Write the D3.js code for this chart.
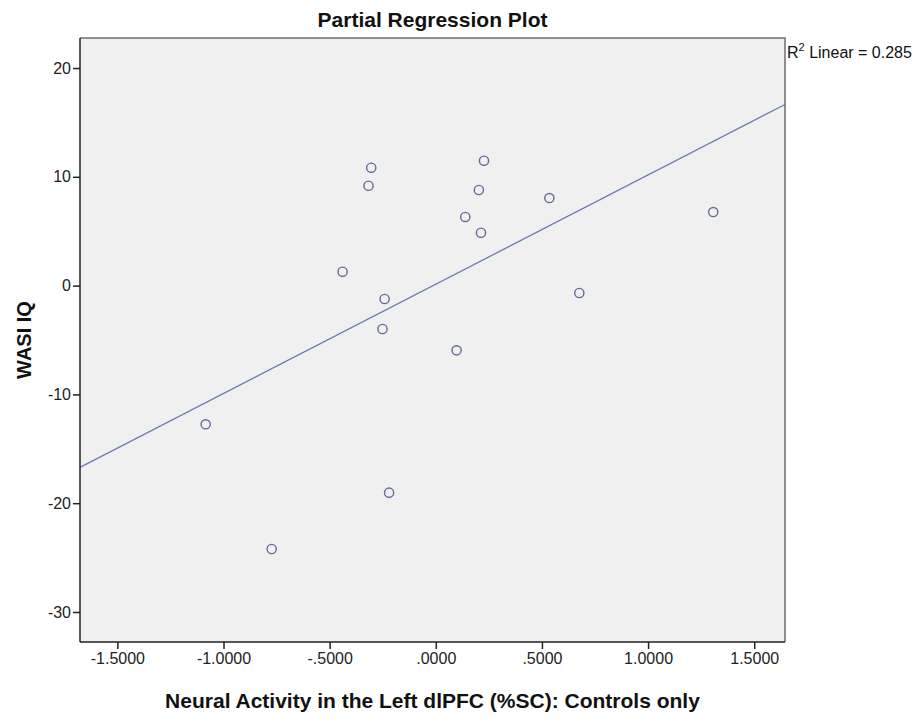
<!DOCTYPE html>
<html>
<head>
<meta charset="utf-8">
<script src="https://cdn.jsdelivr.net/npm/d3@7"></script>
<style>
  html, body { margin: 0; padding: 0; background: #ffffff; }
  svg { display: block; font-family: "Liberation Sans", Arial, sans-serif; }
</style>
</head>
<body>
<svg id="chart" width="919" height="719"></svg>
<script>
// Partial residuals: neural activity (x) vs WASI IQ (y), controls only
const activity = [-1.084, -0.773, -0.220, -0.251, -0.241, -0.439, -0.304, -0.317,
                   0.139,  0.203,  0.227,  0.213,  0.098,  0.535,  0.676,  1.307];
const wasiIQ   = [-12.75, -24.21, -19.03, -3.99, -1.23, 1.28, 10.84, 9.18,
                    6.31,   8.79,  11.48,  4.86, -5.95, 8.05, -0.68, 6.76];
const xTicks = [-1.5, -1.0, -0.5, 0, 0.5, 1.0, 1.5];
const yTicks = [20, 10, 0, -10, -20, -30];
const xDomain = [-1.676, 1.645];
const yDomain = [-32.76, 22.76];

const svg = d3.select("#chart");
const frame = { left: 80, right: 785, top: 38, bottom: 642 };

const x = d3.scaleLinear().domain(xDomain).range([frame.left, frame.right]);
const y = d3.scaleLinear().domain(yDomain).range([frame.bottom, frame.top]);

// Plot background
svg.append("rect")
  .attr("x", frame.left).attr("y", frame.top)
  .attr("width", frame.right - frame.left)
  .attr("height", frame.bottom - frame.top)
  .attr("fill", "#f0f0f0");

// Least-squares fit line
const points = activity.map((v, i) => ({ x: v, y: wasiIQ[i] }));
const mx = d3.mean(activity), my = d3.mean(wasiIQ);
const sxy = d3.sum(points, p => (p.x - mx) * (p.y - my));
const sxx = d3.sum(points, p => (p.x - mx) ** 2);
const slope = sxy / sxx, intercept = my - slope * mx;

svg.append("line")
  .attr("x1", x(xDomain[0])).attr("y1", y(intercept + slope * xDomain[0]))
  .attr("x2", x(xDomain[1])).attr("y2", y(intercept + slope * xDomain[1]))
  .attr("stroke", "#6a7db5").attr("stroke-width", 1.3);

// Observations
svg.append("g").selectAll("circle")
  .data(points).join("circle")
  .attr("cx", d => x(d.x)).attr("cy", d => y(d.y))
  .attr("r", 4.6)
  .attr("fill", "none")
  .attr("stroke", "#5f6a98")
  .attr("stroke-width", 1.4);

// Frame: light top/right, dark axes
svg.append("path")
  .attr("d", `M${frame.left},${frame.top}H${frame.right}V${frame.bottom}`)
  .attr("fill", "none").attr("stroke", "#6e6e6e").attr("stroke-width", 1.5);

// Tick formats with plain hyphen minus and no leading zero
const fmtX = v => d3.format(".4f")(v).replace("\u2212", "-").replace(/^(-?)0\./, "$1.");
const fmtY = v => d3.format("d")(v).replace("\u2212", "-");

const xAxis = svg.append("g")
  .attr("transform", `translate(0,${frame.bottom})`)
  .call(d3.axisBottom(x).tickValues(xTicks).tickFormat(fmtX).tickSize(7).tickPadding(4));
const yAxis = svg.append("g")
  .attr("transform", `translate(${frame.left},0)`)
  .call(d3.axisLeft(y).tickValues(yTicks).tickFormat(fmtY).tickSize(7).tickPadding(2));

[xAxis, yAxis].forEach(g => {
  g.select(".domain").attr("stroke", "#222").attr("stroke-width", 1.5);
  g.selectAll(".tick line").attr("stroke", "#222").attr("stroke-width", 1.5);
  g.selectAll(".tick text")
    .attr("fill", "#222")
    .style("font-family", "'Liberation Sans', Arial, sans-serif")
    .style("font-size", "16px");
});
xAxis.select(".domain").attr("d", `M${frame.left},0H${frame.right}`);
yAxis.select(".domain").attr("d", `M0,${frame.top}V${frame.bottom}`);

// Titles
svg.append("text")
  .attr("x", (frame.left + frame.right) / 2).attr("y", 27)
  .attr("text-anchor", "middle")
  .attr("font-size", 21).attr("font-weight", "bold").attr("fill", "#111")
  .text("Partial Regression Plot");

svg.append("text")
  .attr("x", (frame.left + frame.right) / 2).attr("y", 708)
  .attr("text-anchor", "middle")
  .attr("font-size", 21).attr("font-weight", "bold").attr("fill", "#111")
  .text("Neural Activity in the Left dlPFC (%SC): Controls only");

svg.append("text")
  .attr("transform", `translate(31,${(frame.top + frame.bottom) / 2}) rotate(-90)`)
  .attr("text-anchor", "middle")
  .attr("font-size", 20).attr("font-weight", "bold").attr("fill", "#111")
  .text("WASI IQ");

// Fit summary
const r2 = svg.append("text")
  .attr("x", frame.right + 2).attr("y", 58)
  .attr("font-size", 16).attr("fill", "#111");
r2.append("tspan").text("R");
r2.append("tspan").attr("font-size", 11).attr("dy", -7).text("2");
r2.append("tspan").attr("dy", 7).text(" Linear = 0.285");
</script>
</body>
</html>
